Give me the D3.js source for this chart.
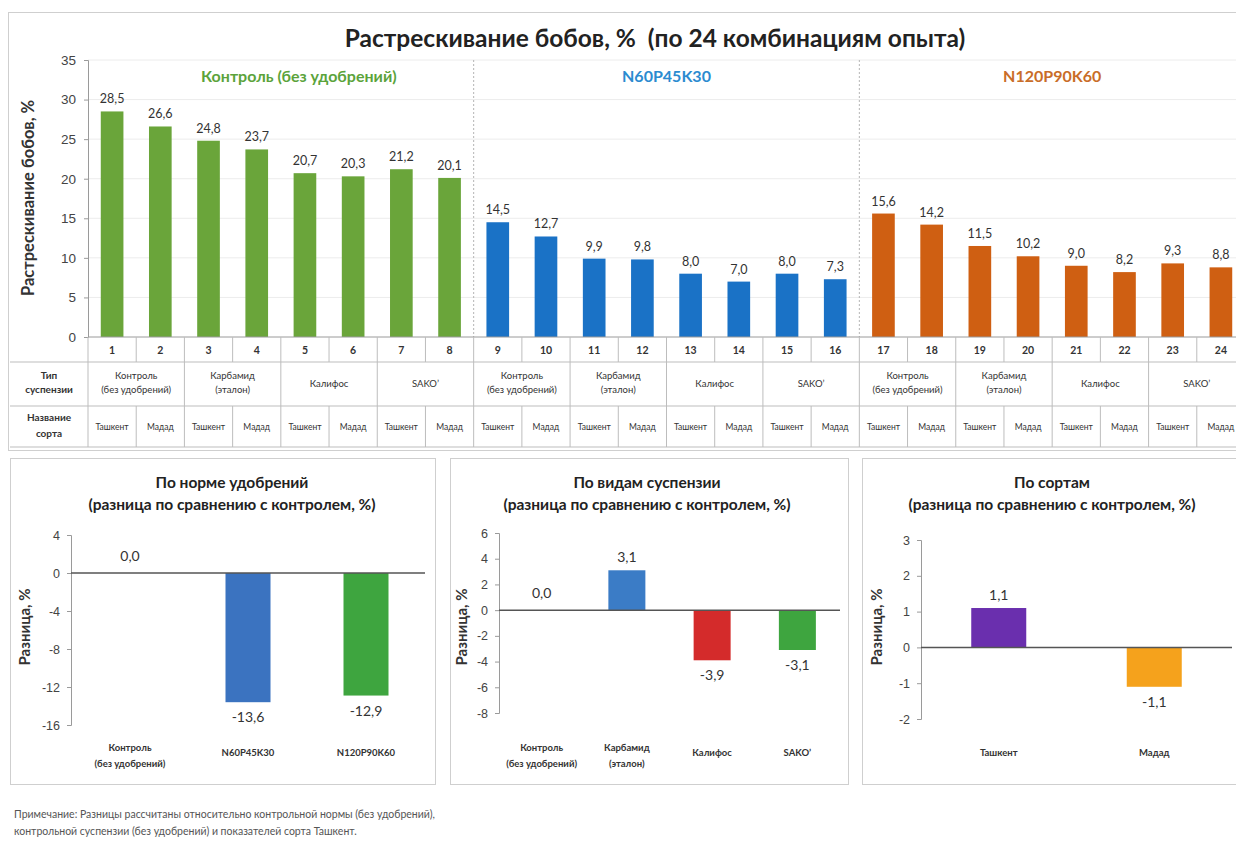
<!DOCTYPE html>
<html>
<head>
<meta charset="utf-8">
<script src="https://cdn.jsdelivr.net/npm/d3@7"></script>
<style>
  body { margin: 0; background: #fff; }
  svg { display: block; font-family: Lato, "Open Sans", sans-serif; }
</style>
</head>
<body>
<svg></svg>
<script>
// данные основного графика (24 комбинации)
const ids = ["1", "2", "3", "4", "5", "6", "7", "8", "9", "10", "11", "12",
    "13", "14", "15", "16", "17", "18", "19", "20", "21", "22", "23", "24"];
const crackValues = [28.5, 26.6, 24.8, 23.7, 20.7, 20.3, 21.2, 20.1,
    14.5, 12.7, 9.9, 9.8, 8.0, 7.0, 8.0, 7.3,
    15.6, 14.2, 11.5, 10.2, 9.0, 8.2, 9.3, 8.8];
const fertGroups = ["Контроль (без удобрений)", "N60P45K30", "N120P90K60"];
const suspTypes = [["Контроль", "(без удобрений)"], ["Карбамид", "(эталон)"], ["Калифос"], ["SAKO’"]];
const varieties = ["Ташкент", "Мадад"];
const mainTicks = [0, 5, 10, 15, 20, 25, 30, 35];

// нижние графики
const fertCats = [["Контроль", "(без удобрений)"], ["N60P45K30"], ["N120P90K60"]];
const fertDiff = [0.0, -13.6, -12.9];
const fertTicks = [4, 0, -4, -8, -12, -16];

const suspCats = [["Контроль", "(без удобрений)"], ["Карбамид", "(эталон)"], ["Калифос"], ["SAKO’"]];
const suspDiff = [0.0, 3.1, -3.9, -3.1];
const suspTicks = [6, 4, 2, 0, -2, -4, -6, -8];

const sortCats = [["Ташкент"], ["Мадад"]];
const sortDiff = [1.1, -1.1];
const sortTicks = [3, 2, 1, 0, -1, -2];

function fmt(v) {
    return d3.format(".1f")(v).replace(".", ",").replace("−", "-");
}

var svg = d3.select("svg")
    .attr("width", 1236)
    .attr("height", 850);

function drawMain() {

    var groupColors = ["#6aa53a", "#1a72c6", "#cf5f12"];
    var labelColors = ["#5ba33b", "#2b8bd0", "#c96d28"];

    svg.append("rect")
        .attr("x", 8.5).attr("y", 12.5)
        .attr("width", 1260).attr("height", 438)
        .attr("fill", "#fff")
        .attr("stroke", "#cfcfcf");

    var x = d3.scaleBand().domain(ids).range([88, 1245]);
    var y = d3.scaleLinear().domain([0, 35]).range([337, 60]);
    var bw = x.bandwidth();
    var barW = bw * 0.47;

    // сетка
    svg.append("g")
        .selectAll("line")
        .data(mainTicks.slice(1))
        .join("line")
        .attr("x1", 88).attr("x2", 1245)
        .attr("y1", d => y(d)).attr("y2", d => y(d))
        .attr("stroke", "#ececec");

    // разделители групп
    [1, 2].forEach(function (g) {
        var xs = x(ids[g * 8]);
        svg.append("line")
            .attr("x1", xs).attr("x2", xs)
            .attr("y1", 60).attr("y2", 337)
            .attr("stroke", "#b5b5b5")
            .attr("stroke-dasharray", "2,2");
    });

    var ax = svg.append("g")
        .attr("transform", "translate(88,0)")
        .call(d3.axisLeft(y).tickValues(mainTicks).tickSize(4).tickPadding(8));
    ax.select(".domain").attr("stroke", "#9a9a9a");
    ax.selectAll(".tick line").attr("stroke", "#9a9a9a");
    ax.selectAll("text").attr("font-size", 13.5).attr("fill", "#444").attr("font-family", null);

    svg.append("g")
        .selectAll("rect")
        .data(crackValues)
        .join("rect")
        .attr("x", (d, i) => x(ids[i]) + (bw - barW) / 2)
        .attr("y", d => y(d))
        .attr("width", barW)
        .attr("height", d => y(0) - y(d))
        .attr("fill", (d, i) => groupColors[Math.floor(i / 8)]);

    svg.append("g")
        .selectAll("text")
        .data(crackValues)
        .join("text")
        .attr("x", (d, i) => x(ids[i]) + bw / 2)
        .attr("y", d => y(d) - 8)
        .attr("text-anchor", "middle")
        .attr("font-size", 12.5)
        .attr("fill", "#333")
        .text(d => fmt(d));

    // подписи групп
    svg.append("g")
        .selectAll("text")
        .data(fertGroups)
        .join("text")
        .attr("x", (d, g) => (x(ids[g * 8]) + x(ids[g * 8 + 7]) + bw) / 2 + (g == 0 ? 18 : 0))
        .attr("y", 82)
        .attr("text-anchor", "middle")
        .attr("font-size", 16)
        .attr("font-weight", "bold")
        .attr("fill", (d, g) => labelColors[g])
        .text(d => d);

    svg.append("text")
        .attr("x", 655).attr("y", 47)
        .attr("text-anchor", "middle")
        .attr("font-size", 24.5)
        .attr("font-weight", "bold")
        .attr("fill", "#222")
        .style("white-space", "pre")
        .text("Растрескивание бобов, %  (по 24 комбинациям опыта)");

    svg.append("text")
        .attr("transform", "translate(34,198) rotate(-90)")
        .attr("text-anchor", "middle")
        .attr("font-size", 16.5)
        .attr("font-weight", "bold")
        .attr("fill", "#333")
        .text("Растрескивание бобов, %");

    // таблица под осью
    var r0 = 337, r1 = 362, r2 = 406, r3 = 447;
    var grid = svg.append("g").attr("stroke", "#bdbdbd");
    grid.append("line").attr("x1", 88).attr("x2", 1245).attr("y1", r0).attr("y2", r0).attr("stroke", "#9a9a9a");
    [r1, r2, r3].forEach(function (ry) {
        grid.append("line").attr("x1", 10).attr("x2", 1245).attr("y1", ry).attr("y2", ry);
    });
    grid.append("line").attr("x1", 88).attr("x2", 88).attr("y1", r0).attr("y2", r3);
    ids.forEach(function (id, i) {
        var xb = x(id) + bw;
        grid.append("line").attr("x1", xb).attr("x2", xb).attr("y1", r0).attr("y2", r1);
        grid.append("line").attr("x1", xb).attr("x2", xb).attr("y1", r2).attr("y2", r3);
        if (i % 2 == 1) {
            grid.append("line").attr("x1", xb).attr("x2", xb).attr("y1", r1).attr("y2", r2);
        }
    });

    svg.append("g")
        .selectAll("text")
        .data(ids)
        .join("text")
        .attr("x", d => x(d) + bw / 2)
        .attr("y", 354)
        .attr("text-anchor", "middle")
        .attr("font-size", 10.5)
        .attr("font-weight", "bold")
        .attr("fill", "#333")
        .text(d => d);

    for (var p = 0; p < 12; p++) {
        var lines = suspTypes[p % 4];
        var t = svg.append("text")
            .attr("x", x(ids[p * 2]) + bw)
            .attr("text-anchor", "middle")
            .attr("font-size", 9.5)
            .attr("fill", "#333");
        lines.forEach(function (s, k) {
            var yy = lines.length == 1 ? 387 : 379 + k * 14;
            t.append("tspan").attr("x", x(ids[p * 2]) + bw).attr("y", yy).text(s);
        });
    }

    svg.append("g")
        .selectAll("text")
        .data(ids)
        .join("text")
        .attr("x", d => x(d) + bw / 2)
        .attr("y", 430)
        .attr("text-anchor", "middle")
        .attr("font-size", 8.5)
        .attr("fill", "#333")
        .text((d, i) => varieties[i % 2]);

    var rowHeads = [[["Тип", 379], ["суспензии", 393]], [["Название", 421], ["сорта", 437]]];
    rowHeads.forEach(function (rh) {
        rh.forEach(function (r) {
            svg.append("text")
                .attr("x", 49).attr("y", r[1])
                .attr("text-anchor", "middle")
                .attr("font-size", 10)
                .attr("font-weight", "bold")
                .attr("fill", "#333")
                .text(r[0]);
        });
    });
}

function drawPanel(cfg) {

    svg.append("rect")
        .attr("x", cfg.box[0] + 0.5).attr("y", 458.5)
        .attr("width", cfg.box[1] - cfg.box[0]).attr("height", 326)
        .attr("fill", "#fff")
        .attr("stroke", "#cfcfcf");

    cfg.title.forEach(function (s, k) {
        svg.append("text")
            .attr("x", cfg.tx).attr("y", 488 + k * 22)
            .attr("text-anchor", "middle")
            .attr("font-size", 15.5)
            .attr("font-weight", "bold")
            .attr("fill", "#222")
            .text(s);
    });

    var x = d3.scaleBand().domain(d3.range(cfg.cats.length)).range([cfg.ax, cfg.right]);
    var y = d3.scaleLinear().domain(d3.extent(cfg.ticks)).range(cfg.yr);

    var ax = svg.append("g")
        .attr("transform", "translate(" + cfg.ax + ",0)")
        .call(d3.axisLeft(y).tickValues(cfg.ticks).tickSize(4).tickPadding(7).tickFormat(d => String(d)));
    ax.select(".domain").attr("stroke", "#9a9a9a");
    ax.selectAll(".tick line").attr("stroke", "#9a9a9a");
    ax.selectAll("text").attr("font-size", 12.5).attr("fill", "#444").attr("font-family", null);

    svg.append("g")
        .selectAll("rect")
        .data(cfg.values)
        .join("rect")
        .attr("x", (d, i) => x(i) + (x.bandwidth() - cfg.barW) / 2)
        .attr("y", d => y(Math.max(0, d)))
        .attr("width", cfg.barW)
        .attr("height", d => Math.abs(y(d) - y(0)))
        .attr("fill", (d, i) => cfg.colors[i]);

    svg.append("line")
        .attr("x1", cfg.ax).attr("x2", cfg.right)
        .attr("y1", y(0)).attr("y2", y(0))
        .attr("stroke", "#555")
        .attr("stroke-width", 1.5);

    svg.append("g")
        .selectAll("text")
        .data(cfg.values)
        .join("text")
        .attr("x", (d, i) => x(i) + x.bandwidth() / 2)
        .attr("y", d => d > 0 ? y(d) - 8 : (d < 0 ? y(d) + 20 : y(0) - 12))
        .attr("text-anchor", "middle")
        .attr("font-size", 14)
        .attr("fill", "#333")
        .text(d => fmt(d));

    cfg.cats.forEach(function (lines, i) {
        lines.forEach(function (s, k) {
            svg.append("text")
                .attr("x", x(i) + x.bandwidth() / 2)
                .attr("y", lines.length == 1 ? 756 : 751 + k * 16)
                .attr("text-anchor", "middle")
                .attr("font-size", 9.5)
                .attr("font-weight", "bold")
                .attr("fill", "#333")
                .text(s);
        });
    });

    svg.append("text")
        .attr("transform", "translate(" + cfg.lx + ",627) rotate(-90)")
        .attr("text-anchor", "middle")
        .attr("font-size", 15)
        .attr("font-weight", "bold")
        .attr("fill", "#333")
        .text("Разница, %");
}

drawMain();

var subTitle = "(разница по сравнению с контролем, %)";

drawPanel({
    box: [10, 435], tx: 232, title: ["По норме удобрений", subTitle],
    ax: 71, right: 425, yr: [725, 535], ticks: fertTicks,
    cats: fertCats, values: fertDiff, colors: ["#3b73c0", "#3b73c0", "#3ea53f"],
    barW: 45, lx: 30
});

drawPanel({
    box: [450, 848], tx: 647, title: ["По видам суспензии", subTitle],
    ax: 499, right: 840, yr: [713, 533], ticks: suspTicks,
    cats: suspCats, values: suspDiff, colors: ["#3b7cc6", "#3b7cc6", "#d42b2b", "#3ea53f"],
    barW: 37, lx: 467
});

drawPanel({
    box: [862, 1250], tx: 1052, title: ["По сортам", subTitle],
    ax: 921, right: 1232, yr: [719, 540], ticks: sortTicks,
    cats: sortCats, values: sortDiff, colors: ["#6a2fae", "#f5a21c"],
    barW: 55, lx: 882
});

// примечание
["Примечание: Разницы рассчитаны относительно контрольной нормы (без удобрений),",
    "контрольной суспензии (без удобрений) и показателей сорта Ташкент."].forEach(function (s, k) {
    svg.append("text")
        .attr("x", 14).attr("y", 818 + k * 17)
        .attr("font-size", 10.5)
        .attr("fill", "#555")
        .text(s);
});
</script>
</body>
</html>
